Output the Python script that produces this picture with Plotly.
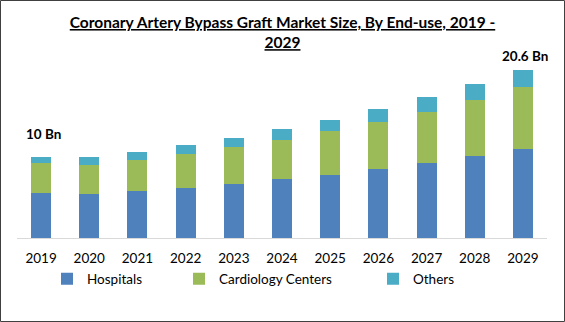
import plotly.graph_objects as go

years = ["2019", "2020", "2021", "2022", "2023", "2024", "2025", "2026", "2027", "2028", "2029"]
hospitals = [5.55, 5.40, 5.77, 6.13, 6.63, 7.24, 7.73, 8.47, 9.20, 10.06, 10.92]
cardiology = [3.60, 3.56, 3.80, 4.17, 4.54, 4.79, 5.40, 5.77, 6.26, 6.87, 7.60]
others = [0.85, 0.98, 0.98, 1.10, 1.10, 1.35, 1.35, 1.60, 1.84, 1.96, 2.08]
series_names = ["Hospitals", "Cardiology Centers", "Others"]
colors = ["#4F81BD", "#9BBB59", "#4BACC6"]
label_years = ["2019", "2029"]
label_texts = ["10 Bn", "20.6 Bn"]

W, H = 565, 322
ml, mr, mt, mb = 17, 18, 60, 84
pw, ph = W - ml - mr, H - mt - mb
ymax = 21.84

fig = go.Figure()
legend_ids = ["legend", "legend2", "legend3"]
for name, vals, col, lg in zip(series_names, [hospitals, cardiology, others], colors, legend_ids):
    fig.add_trace(go.Bar(x=years, y=vals, name=name, marker=dict(color=col, line=dict(width=0)),
                         legend=lg))

totals = [h + c + o for h, c, o in zip(hospitals, cardiology, others)]
shifts = [13, 4]
for yr, txt, sh in zip(label_years, label_texts, shifts):
    i = years.index(yr)
    # on a category axis, annotation x is given as the category index
    fig.add_annotation(x=i, y=totals[i], text=f"<b>{txt}</b>", showarrow=False, xshift=2,
                       yanchor="bottom", yshift=sh, font=dict(size=13.5, color="#000000", family="Lato"))

# legend positions (text start px)
text_starts = [88, 220, 414]
leg_layout = {}
for lg, ts in zip(legend_ids, text_starts):
    leg_layout[lg] = dict(x=(ts - 41 - ml) / pw, y=(H - mb - 279) / ph, xanchor="left", yanchor="middle",
                          orientation="h", font=dict(size=13.5, family="Lato", color="#000000"),
                          bgcolor="rgba(0,0,0,0)", itemwidth=30)

fig.update_layout(
    width=W, height=H,
    margin=dict(l=ml, r=mr, t=mt, b=mb),
    paper_bgcolor="white", plot_bgcolor="white",
    barmode="stack", bargap=0.585,
    title=dict(text="<b><u>Coronary Artery Bypass Graft Market Size, By End-use, 2019 -</u></b><br><b><u>2029</u></b>",
               x=0.5, xref="container", xanchor="center", y=1 - 28 / H, yanchor="top", yref="container",
               font=dict(size=15.5, family="Lato", color="#000000")),
    xaxis=dict(type="category", range=[-0.5, len(years) - 0.5], showline=True, linecolor="#D9D9D9",
               linewidth=1, showgrid=False, ticks="outside",
               ticklen=8, tickcolor="rgba(0,0,0,0)", tickfont=dict(size=13.5, family="Lato", color="#000000"),
               fixedrange=True),
    yaxis=dict(range=[0, ymax], visible=False, showgrid=False, fixedrange=True),
    showlegend=True,
    **leg_layout,
)

fig.add_shape(type="rect", xref="paper", yref="paper",
              x0=(0.5 - ml) / pw, x1=(W - 0.5 - ml) / pw,
              y0=(H - mb - (H - 0.5)) / ph, y1=(H - mb - 0.5) / ph,
              line=dict(color="#404040", width=1), fillcolor="rgba(0,0,0,0)", layer="above")

fig.write_html("out.html")
